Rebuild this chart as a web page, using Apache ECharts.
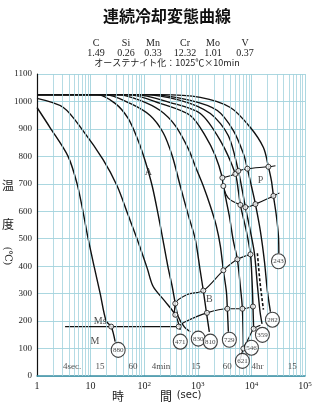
<!DOCTYPE html>
<html><head><meta charset="utf-8">
<script src="https://cdn.jsdelivr.net/npm/echarts@6/dist/echarts.min.js"></script>
<style>html,body{margin:0;padding:0;background:#fff}#c{width:320px;height:406px}</style>
</head><body><div id="c"></div>
<script>
// ---- data (time in sec, temperature in °C) ----
const timeTicks = [1, 10, 100, 1000, 10000, 100000];
const tempTicks = [0, 100, 200, 300, 400, 500, 600, 700, 800, 900, 1000, 1100];
const elements = ['C', 'Si', 'Mn', 'Cr', 'Mo', 'V'];
const contents = ['1.49', '0.26', '0.33', '12.32', '1.01', '0.37'];

const curve880 = [[1,978],[1.75,905],[3.8,800],[5.6,700],[7.2,600],[9,500],[11.6,400],[15.1,300],[19.5,200],[24.2,180],[28.7,125]];
const curve471 = [[1,1011],[3.1,978],[7.2,894],[17.1,788],[31.3,692],[50.2,586],[74,498],[114,392],[147,326],[247,271],[380,223],[471,168]];
const curve830 = [[1,1025],[13.2,1025],[28.7,993],[50.2,938],[77.3,857],[104,784],[141,692],[183,586],[226,491],[281,392],[333,326],[380,264],[432,216],[560,179],[724,161]];
const curve810 = [[1,1025],[18.7,1025],[54.7,993],[129,949],[226,886],[333,802],[471,692],[664,586],[898,498],[1114,381],[1267,311],[1442,234],[1640,161]];
const curve729 = [[1,1025],[32.7,1025],[84,1004],[199,967],[380,912],[664,828],[937,755],[1267,692],[1713,619],[2218,546],[2635,473],[2998,385],[3411,308],[3559,245],[3717,161]];
const curve621 = [[1,1025],[50.2,1025],[199,993],[724,949],[1380,875],[2124,802],[2871,722],[3126,674],[3880,582],[4610,491],[5473,425],[6224,326],[6787,245],[7087,100]];
const curve546 = [[1,1025],[67.9,1025],[306,996],[1114,956],[2635,857],[5023,736],[5714,674],[6224,623],[8070,527],[9600,443],[10300,344],[10700,253],[11000,172]];
const curve359 = [[1,1025],[91.8,1025],[471,1004],[1713,956],[3717,875],[5714,747],[6787,674],[7727,615],[9577,527],[11380,447],[13000,326],[14500,234],[15800,190]];
const curve282 = [[1,1025],[129,1025],[724,1004],[2314,967],[4610,894],[7087,810],[8420,755],[10000,692],[11880,626],[14730,527],[17500,418],[19910,308],[22650,234]];
const curve243 = [[1,1025],[199,1025],[1114,1015],[4049,978],[9577,905],[16760,832],[20780,762],[23660,711],[25770,656],[29310,582],[31980,509],[32500,447]];

const msLine = [[3.34,180],[414,180]];
const bsLine = [[365,215],[380,264],[636,297],[1267,311],[2998,385],[5473,425],[9600,443]];
const bfLine = [[414,179],[584,198],[1480,230],[3559,245],[6787,245],[10700,253]];
const psLine = [[2871,722],[5023,736],[5714,747],[8420,755],[20780,762],[28100,766]];
const pfLine = [[2871,722],[2998,692],[3717,648],[6224,623],[7727,615],[11880,626],[25770,656],[33370,667]];
const lowerLine = [[6224,62],[7087,100],[9000,140],[11000,172],[14730,185]];
const dashedLine = [[12940,447],[14500,340],[16760,242]];

const transPoints = [[24.2,180],[380,223],[440,180],
  [380,264],[1267,311],[2998,385],[5473,425],[9600,443],
  [1480,230],[3559,245],[6787,245],[10700,253],
  [2871,722],[5023,736],[5714,747],[8420,755],[20780,762],
  [2998,692],[6224,623],[7727,615],[11880,626],[25770,656],
  [7087,100],[11000,172]];

const hardness = ['880','471','830','810','729','621','546','359','282','243'];
const hardnessPos = [[32.7,95],[471,125],[1021,136],[1713,125],[3880,132],[6787,55],[10000,103],[16060,150],[24710,205],[31980,418]];

const regionNames = ['A','P','B','Ms','M'];
const regionPos = [[119,740],[14730,711],[1640,278],[15.1,199],[12.1,125]];

const timeMarkNames = ['4sec.','15','60','4min','15','60','4hr','15'];
const timeMarkPos = [4.5,15,62,205,930,3560,13000,58000];

// ---- chart ----
const GRID = '#a2d2dd';
const SERIF = '"Liberation Serif","DejaVu Serif",serif';
const JP = '"Noto Sans CJK JP",sans-serif';

const minorX = [];
for (let d = 1; d < 100000; d *= 10) for (let k = 2; k <= 9; k++) minorX.push(d * k);

const curves = [curve880, curve471, curve830, curve810, curve729, curve621, curve546, curve359, curve282, curve243];

const series = [];
series.push({type:'line', data:[], silent:true, z:1,
  markLine:{silent:true, symbol:'none', label:{show:false}, animation:false,
    lineStyle:{color:GRID, width:0.8, type:'solid'}, data:minorX.map(v=>({xAxis:v}))}});
curves.forEach((c,i)=>series.push({type:'line', name:'c'+i, data:c, smooth:0.3,
  symbol:'none', z:3, lineStyle:{color:'#111', width:1.4}}));
[msLine, bsLine, bfLine, psLine, lowerLine].forEach(l=>series.push({type:'line', data:l, smooth:0.3,
  symbol:'none', z:3, lineStyle:{color:'#111', width:1.1}}));
series.push({type:'line', data:pfLine, smooth:0.4, symbol:'none', z:3, lineStyle:{color:'#111', width:1.1}});
series.push({type:'line', data:dashedLine, smooth:0.3, symbol:'none', z:3, lineStyle:{color:'#111', width:1.6, type:[3,2]}});
series.push({type:'scatter', data:transPoints, symbol:'circle', symbolSize:5, z:5,
  itemStyle:{color:'#fff', borderColor:'#111', borderWidth:1}});
series.push({type:'scatter', z:6, symbol:'circle', symbolSize:[14,15],
  itemStyle:{color:'#fff', borderColor:'#111', borderWidth:1.1},
  label:{show:true, position:'inside', formatter:'{b}', fontSize:7, fontFamily:SERIF, color:'#111'},
  data:hardness.map((h,i)=>({name:h, value:hardnessPos[i]}))});
series.push({type:'scatter', z:6, symbolSize:0,
  label:{show:true, position:'inside', formatter:'{b}', fontSize:10, fontFamily:SERIF, color:'#222'},
  data:regionNames.map((h,i)=>({name:h, value:regionPos[i]}))});
series.push({type:'scatter', z:6, symbolSize:0,
  label:{show:true, position:'inside', formatter:'{b}', fontSize:9, fontFamily:SERIF, color:'#222'},
  data:timeMarkNames.map((h,i)=>({name:h, value:[timeMarkPos[i],33]}))});

const graphic = [
  {type:'text', x:167, y:16, style:{text:'連続冷却変態曲線', font:'bold 16px '+JP, fill:'#111', textAlign:'center', textVerticalAlign:'middle'}},
  {type:'text', x:167, y:63, style:{text:'オーステナイト化：1025℃×10min', font:'9px '+JP, fill:'#222', textAlign:'center', textVerticalAlign:'middle'}},
  {type:'text', x:8, y:185, style:{text:'温', font:'12px '+JP, fill:'#222', textAlign:'center', textVerticalAlign:'middle'}},
  {type:'text', x:8, y:224, style:{text:'度', font:'12px '+JP, fill:'#222', textAlign:'center', textVerticalAlign:'middle'}},
  {type:'text', x:8, y:256, rotation:-Math.PI/2, style:{text:'(℃)', font:'10px '+SERIF, fill:'#222', textAlign:'center', textVerticalAlign:'middle'}},
  {type:'text', x:118, y:396, style:{text:'時', font:'12px '+JP, fill:'#222', textAlign:'center', textVerticalAlign:'middle'}},
  {type:'text', x:166, y:396, style:{text:'間', font:'12px '+JP, fill:'#222', textAlign:'center', textVerticalAlign:'middle'}},
  {type:'text', x:189, y:395, style:{text:'(sec)', font:'10px "DejaVu Sans",sans-serif', fill:'#222', textAlign:'center', textVerticalAlign:'middle'}}
];
const elemX = [96,126,153,185,213,245];
elements.forEach((e,i)=>graphic.push({type:'text', x:elemX[i], y:43, style:{text:e, font:'10px '+SERIF, fill:'#222', textAlign:'center', textVerticalAlign:'middle'}}));
contents.forEach((e,i)=>graphic.push({type:'text', x:elemX[i], y:53, style:{text:e, font:'10px '+SERIF, fill:'#222', textAlign:'center', textVerticalAlign:'middle'}}));

const chart = echarts.init(document.getElementById('c'), null, {renderer:'canvas'});
chart.setOption({
  animation:false,
  backgroundColor:'#fff',
  grid:{left:37, right:15, top:74, bottom:30, containLabel:false, outerBoundsMode:'none'},
  xAxis:{type:'log', logBase:10, min:timeTicks[0], max:timeTicks[timeTicks.length-1],
    axisLine:{show:true, lineStyle:{color:'#3b8ea3', width:1.5}}, axisTick:{show:false},
    splitLine:{show:true, lineStyle:{color:GRID, width:0.9}},
    axisLabel:{margin:5, color:'#222', fontFamily:SERIF, fontSize:10,
      formatter:v=>{const e=Math.round(Math.log10(v)); return e===0?'1':e===1?'10':'{b|10}{s|'+e+'}';},
      rich:{b:{fontSize:10, fontFamily:SERIF, color:'#222'}, s:{fontSize:7, fontFamily:SERIF, color:'#222', verticalAlign:'top', padding:[0,0,4,0]}}}},
  yAxis:{type:'value', min:tempTicks[0], max:tempTicks[tempTicks.length-1], interval:100,
    axisLine:{show:true, lineStyle:{color:'#111', width:1.2}}, axisTick:{show:false},
    splitLine:{show:true, lineStyle:{color:GRID, width:0.9}},
    axisLabel:{margin:5, color:'#222', fontFamily:SERIF, fontSize:9, formatter:v=>String(v)}},
  graphic:graphic,
  series:series
});
</script></body></html>
